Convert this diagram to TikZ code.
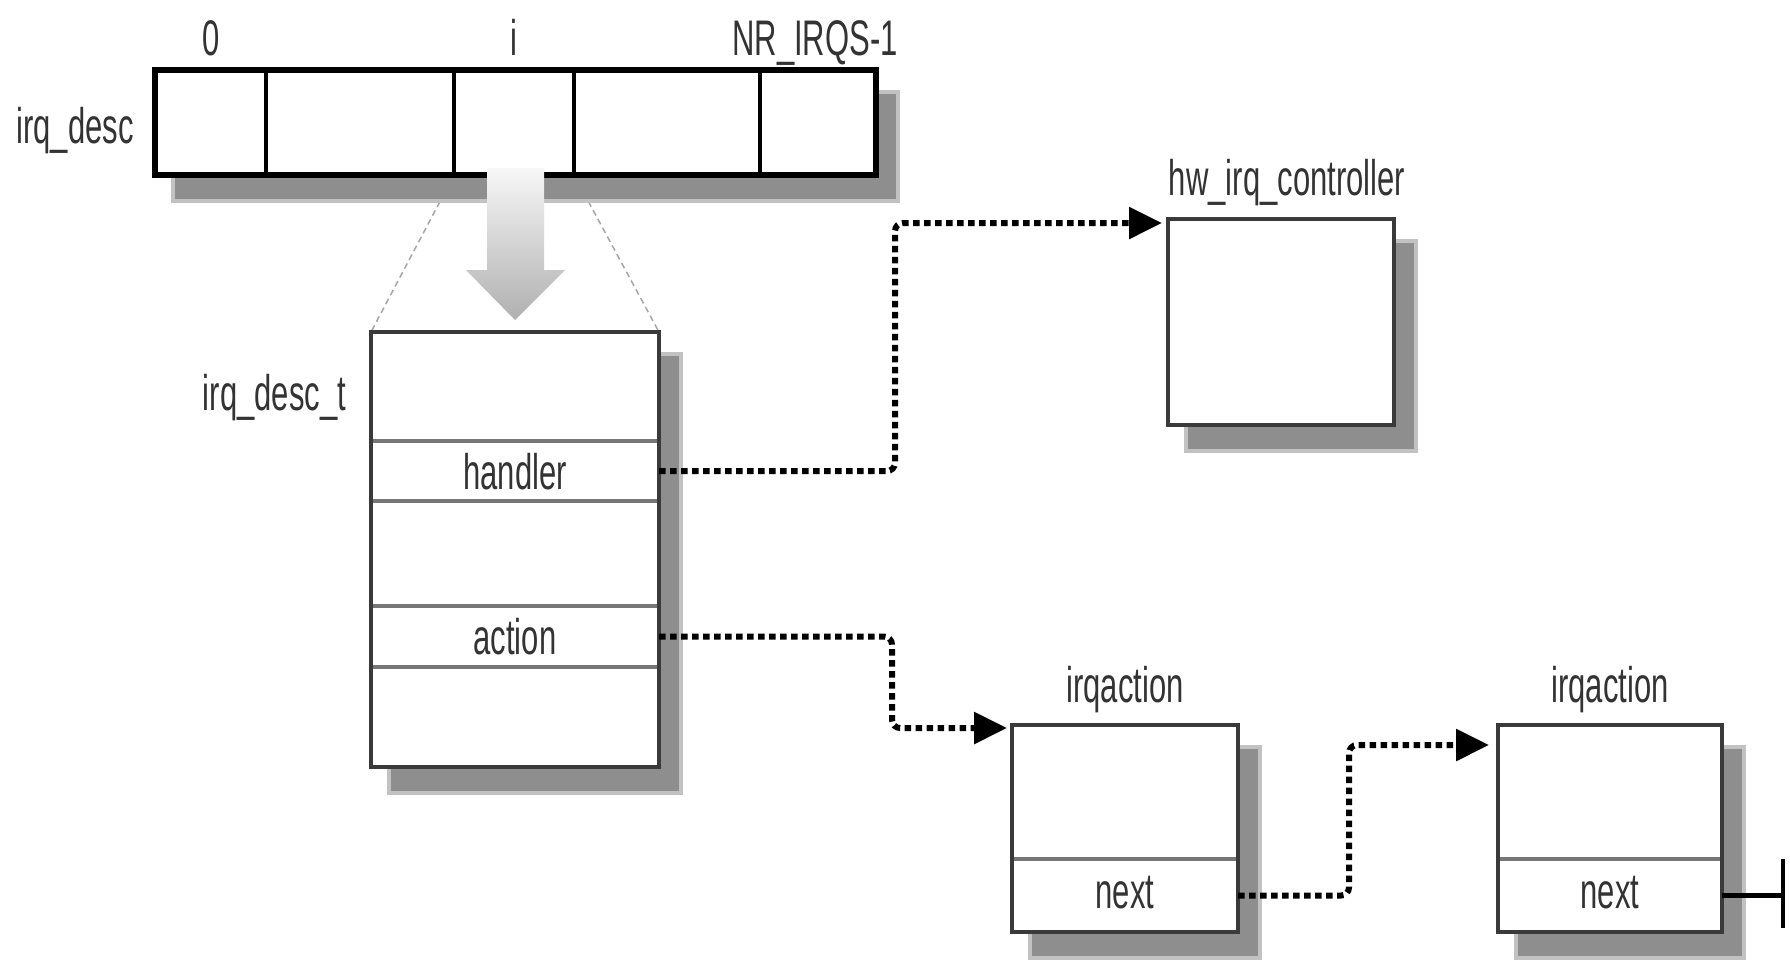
\documentclass[tikz,border=0pt]{standalone}
\usepackage{fontspec}
\setmainfont{Liberation Sans}[FakeStretch=0.62]
\usetikzlibrary{arrows.meta,calc}
\pgfdeclarelayer{bg}
\pgfsetlayers{bg,main}
\definecolor{txt}{HTML}{333333}
\definecolor{framec}{HTML}{3A3A3A}
\definecolor{divc}{HTML}{777777}
\definecolor{shd}{HTML}{8E8E8E}
\definecolor{shdedge}{HTML}{C2C2C2}
\begin{document}
\begin{tikzpicture}[x=1pt,y=-1pt,
  lbl/.style={text=txt, font=\fontsize{50}{60}\selectfont, inner sep=0pt, outer sep=0pt},
  cell/.style={draw=black, line width=4pt, fill=white, inner sep=0pt, outer sep=0pt, anchor=north west, minimum height=105pt},
  box/.style={draw=framec, line width=4pt, fill=white, inner sep=0pt, outer sep=0pt, anchor=north west},
  field/.style={lbl, anchor=north west, text depth=0pt},
  divider/.style={draw=divc, line width=4.5pt},
  ptr/.style={draw=black, line width=6pt, dash pattern=on 6.5pt off 4.5pt, rounded corners=8pt, -{Triangle[length=33pt,width=31pt]}},
  zoomline/.style={draw=gray!70, line width=1.5pt, dash pattern=on 6pt off 4pt}
]
\useasboundingbox (0,0) rectangle (1790,962);
\begin{pgfonlayer}{bg}
  \fill[white] (0,0) rectangle (1790,962);
\end{pgfonlayer}

% ---------- irq_desc array ----------
\node[cell, minimum width=111pt] (c0) at (155,70) {};
\node[cell, minimum width=188pt] (c1) at (266,70) {};
\node[cell, minimum width=120pt] (ci) at (454,70) {};
\node[cell, minimum width=186pt] (c3) at (574,70) {};
\node[cell, minimum width=116pt] (cn) at (760,70) {};
\draw[line width=6pt, black] (c0.north west) rectangle (cn.south east);

\node[lbl, anchor=base] (l0) at (211,55) {0};
\node[lbl, anchor=base] (li) at (514,55) {i};
\node[lbl, anchor=base] (ln) at (815,55) {NR\_IRQS-1};
\node[lbl, anchor=base] (lirq) at (75,143) {irq\_desc};

% ---------- irq_desc_t ----------
\node[box, minimum width=288pt, minimum height=435pt] (desct) at (371,332) {};
\node[field, minimum width=288pt, minimum height=109pt] (f0) at (371,332) {};
\node[field, minimum width=288pt, minimum height=60pt, text height=36pt] (handler) at (371,441) {handler};
\node[field, minimum width=288pt, minimum height=105pt] (f2) at (371,501) {};
\node[field, minimum width=288pt, minimum height=61pt, text height=36pt] (action) at (371,606) {action};
\node[field, minimum width=288pt, minimum height=100pt] (f4) at (371,667) {};
\draw[divider] ($(handler.north west)+(2,0)$) -- ($(handler.north east)+(-2,0)$);
\draw[divider] ($(handler.south west)+(2,0)$) -- ($(handler.south east)+(-2,0)$);
\draw[divider] ($(action.north west)+(2,0)$) -- ($(action.north east)+(-2,0)$);
\draw[divider] ($(action.south west)+(2,0)$) -- ($(action.south east)+(-2,0)$);
\node[lbl, anchor=base east] (ldesct) at (346,410) {irq\_desc\_t};

% ---------- hw_irq_controller ----------
\node[box, minimum width=226pt, minimum height=206pt] (hw) at (1168,219) {};
\node[lbl, anchor=base] (lhw) at (1287,195) {hw\_irq\_controller};

% ---------- irqaction boxes ----------
\node[box, minimum width=226pt, minimum height=207pt] (act1) at (1012,725) {};
\node[field, minimum width=226pt, minimum height=73pt, text height=25pt] (next1) at (1012,859) {next};
\draw[divider] ($(next1.north west)+(2,0)$) -- ($(next1.north east)+(-2,0)$);
\node[lbl, anchor=base] (lact1) at (1125,702) {irqaction};

\node[box, minimum width=224pt, minimum height=207pt] (act2) at (1498,725) {};
\node[field, minimum width=224pt, minimum height=73pt, text height=25pt] (next2) at (1498,859) {next};
\draw[divider] ($(next2.north west)+(2,0)$) -- ($(next2.north east)+(-2,0)$);
\node[lbl, anchor=base] (lact2) at (1610,702) {irqaction};

% ---------- shadows and zoom lines ----------
\begin{pgfonlayer}{bg}
  \draw[zoomline] (ci.south west) -- (desct.north west);
  \draw[zoomline] (ci.south east) -- (desct.north east);
  \fill[shdedge] ($(c0.north west)+(16,20)$) rectangle ($(cn.south east)+(24,28)$);
  \fill[shd] ($(c0.north west)+(20,24)$) rectangle ($(cn.south east)+(20,24)$);
  \foreach \b in {desct,hw,act1,act2}{
    \fill[shdedge] ($(\b.north west)+(16,20)$) rectangle ($(\b.south east)+(24,28)$);
    \fill[shd] ($(\b.north west)+(20,24)$) rectangle ($(\b.south east)+(20,24)$);
  }
\end{pgfonlayer}

% ---------- big zoom arrow ----------
\shade[top color=gray!6, bottom color=gray!62]
  (487,168) -- (544,168) -- (544,270) -- (565,270) -- (515,320) -- (466,270) -- (487,270) -- cycle;

% ---------- pointers ----------
\draw[ptr] (handler.east) -- ++(236,0) |- ($(hw.north west)+(-6,4)$);
\draw[ptr] (action.east) -- ++(233,0) |- ($(act1.north west)+(-5,3)$);
\draw[ptr] (next1.east) -- ++(111,0) |- ($(act2.north west)+(-9,20)$);

% ---------- null terminator ----------
\coordinate (nil) at (1783,895.5);
\draw[line width=5pt, black] (next2.east) -- (nil);
\draw[line width=4pt, black] ($(nil)+(0,-37)$) -- ($(nil)+(0,32)$);
\end{tikzpicture}
\end{document}
